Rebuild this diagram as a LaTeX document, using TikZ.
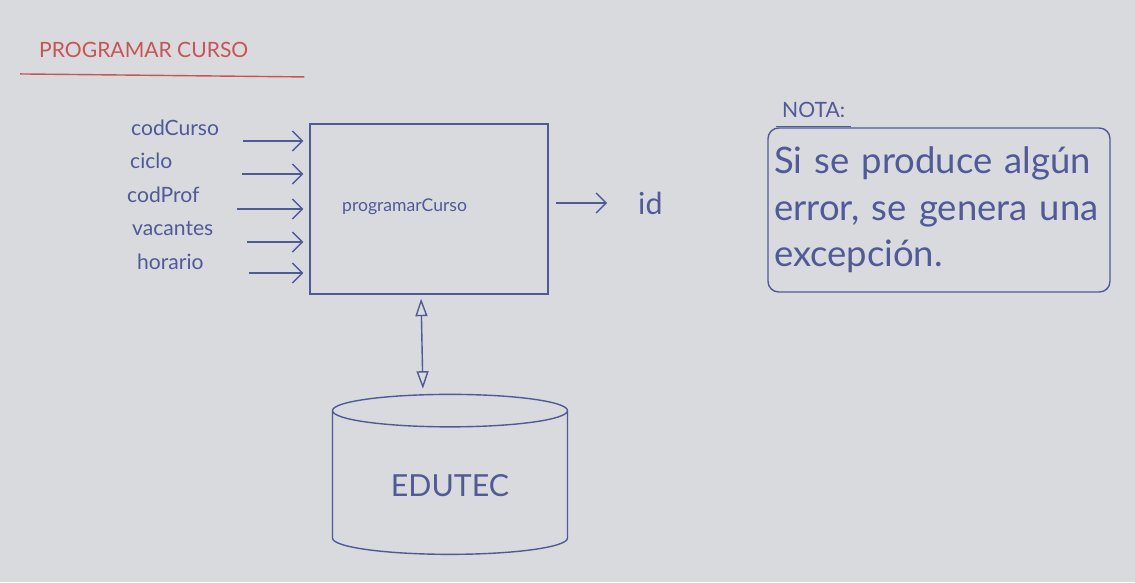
\documentclass[tikz,border=0pt]{standalone}
\usepackage{fontspec}
\setmainfont{Lato}
\usepackage{xcolor}
\usepackage{tikz}
\usetikzlibrary{arrows.meta,positioning,shapes.geometric}
\definecolor{board}{RGB}{216,218,221}
\definecolor{ink}{RGB}{80,90,152}
\definecolor{redink}{RGB}{200,84,84}
\tikzset{
    proc/.style={rectangle, draw=ink, thick, minimum width=4.76cm, minimum height=3.4cm},
    store/.style={cylinder, shape border rotate=90, aspect=0.25, draw=ink, thick, minimum width=4.7cm, minimum height=3.2cm, font=\LARGE, text=ink},
    param/.style={anchor=west, font=\large, text=ink},
    memo/.style={rectangle, draw=ink, thick, rounded corners=6pt, minimum width=6.84cm, minimum height=3.28cm, text width=6.6cm, align=left, font=\huge, text=ink},
    flow/.style={-{Straight Barb[length=2mm]}, thick, ink},
    dbflow/.style={{Triangle[open,length=3.5mm,width=2.4mm]}-{Triangle[open,length=3.5mm,width=2.4mm]}, thick, ink},
}

\begin{document}
\begin{tikzpicture}[x=0.02cm, y=-0.02cm, node distance=0.7cm]
    \fill[board] (0,0) rectangle (1135,582);

    \node[anchor=west, font=\large, text=redink] (title) at (33,50) {PROGRAMAR CURSO};
    \draw[redink, thick] ([xshift=-0.26cm, yshift=-0.2cm]title.south west) -- ([xshift=1cm, yshift=-0.26cm]title.south east);

    \node[proc] (prog) at (429,209) {};
    \node[anchor=west, text=ink] (pname) at (336,207) {programarCurso};
    \node[store, below=1.98cm of prog, xshift=0.42cm] (db) {EDUTEC};
    \node[param, font=\LARGE] (id) at (632,203) {id};

    \foreach \name/\lx/\ly/\ax/\ay in {codCurso/125/128/243/141, ciclo/124/161/242/174, codProf/121/195/237/209, vacantes/126/229/247/242, horario/131/262/249/273} {
        \node[param] (\name) at (\lx,\ly) {\name};
        \coordinate (in-\name) at (\ax,\ay);
        \draw[flow, shorten >=0.12cm] (in-\name) -- (in-\name -| prog.west);
    }

    \draw[flow, shorten <=0.14cm, shorten >=0.5cm] (prog.east |- id.west) -- (id.west);
    \draw[dbflow, shorten <=0.08cm, shorten >=0.1cm] ([xshift=-0.16cm]prog.south) -- ([xshift=-0.54cm]db.north);

    % nota
    \node[anchor=west, font=\large, text=ink] (nota) at (776,110) {NOTA:};
    \draw[ink, thick] ([yshift=-0.05cm]nota.south west) -- ([yshift=-0.05cm]nota.south east);
    \node[memo] (msg) at (939,210) {Si se produce algún\\[0.5mm] error, se genera una\\[0.5mm] excepción.};
\end{tikzpicture}
\end{document}
